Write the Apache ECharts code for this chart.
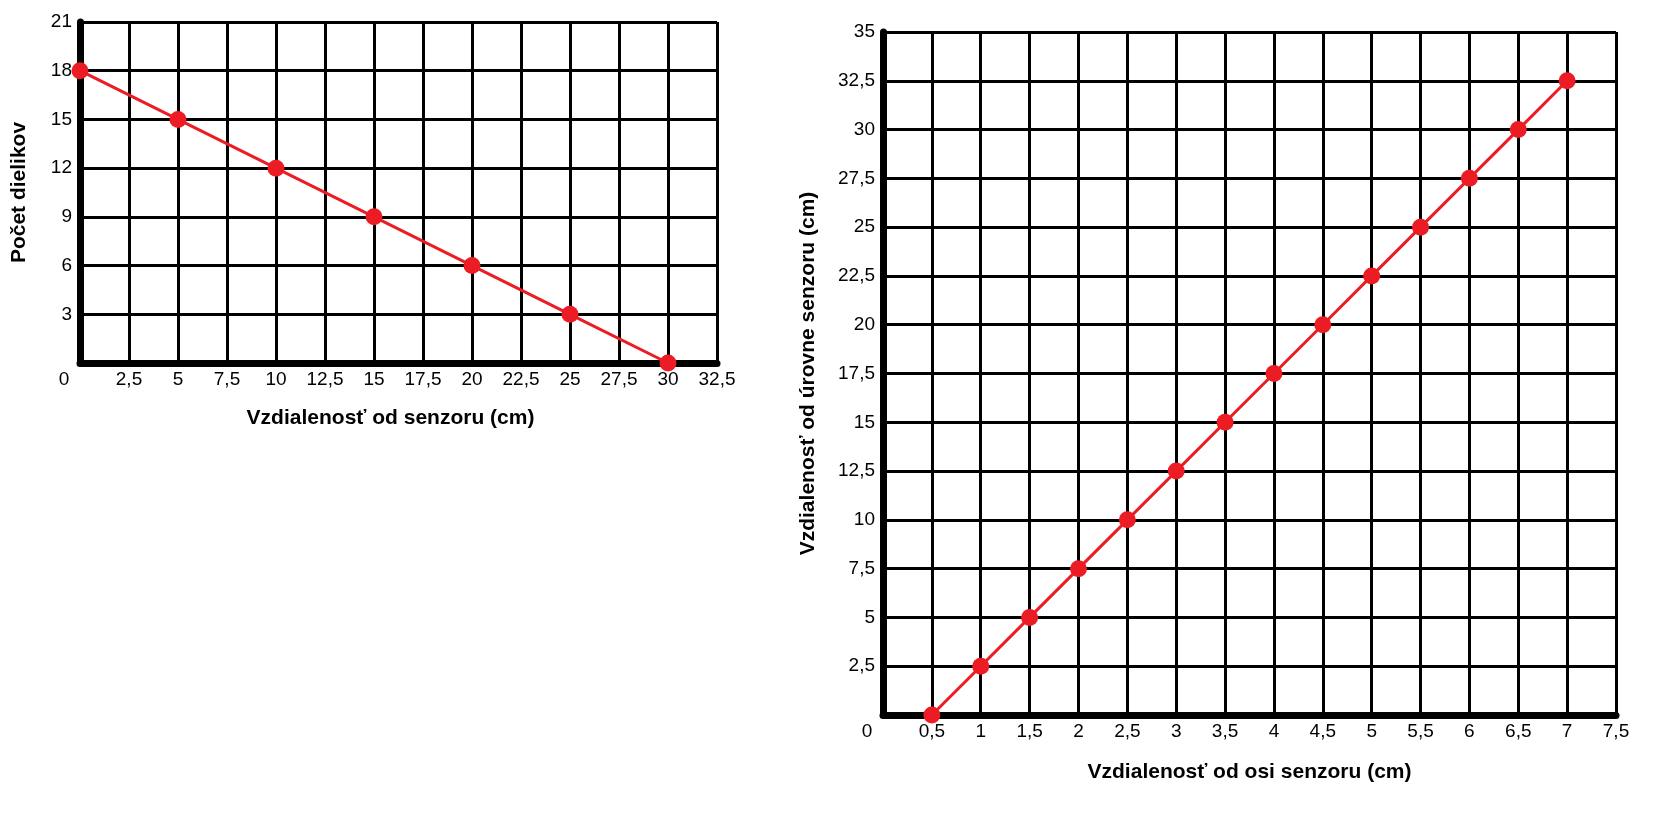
<!DOCTYPE html>
<html>
<head>
<meta charset="utf-8">
<script src="https://cdn.jsdelivr.net/npm/echarts@6/dist/echarts.min.js"></script>
<style>
  html, body { margin: 0; padding: 0; background: #fff; }
  #main { width: 1658px; height: 818px; }
</style>
</head>
<body>
<div id="main"></div>
<script>
// graf 1: pocet dielikov podla vzdialenosti
var dist1 = [0, 5, 10, 15, 20, 25, 30];
var dieliky = [18, 15, 12, 9, 6, 3, 0];

// graf 2: vzdialenost od urovne senzoru podla vzdialenosti od osi
var dist2 = [0.5, 1, 1.5, 2, 2.5, 3, 3.5, 4, 4.5, 5, 5.5, 6, 6.5, 7];
var uroven = [0, 2.5, 5, 7.5, 10, 12.5, 15, 17.5, 20, 22.5, 25, 27.5, 30, 32.5];

var red = '#ec1c24';
var font = 'Liberation Sans, Arial, sans-serif';

function pairs(xs, ys) {
	var out = [];
	for (var i = 0; i < xs.length; i++) out.push([xs[i], ys[i]]);
	return out;
}

// desatinna ciarka, nula na osi x posunuta dolava
function xLabel(v) {
	if (v === 0) return '{z|0}';
	return String(v).replace('.', ',');
}
function yLabel(v) {
	if (v === 0) return '';
	return String(v).replace('.', ',');
}

function xAxisOf(idx, max, step, name, pad, gap) {
	return {
		type: 'value', gridIndex: idx, min: 0, max: max, interval: step,
		name: name, nameLocation: 'middle', nameGap: gap,
		nameTextStyle: { fontFamily: font, fontSize: 21, fontWeight: 'bold', color: '#000', padding: pad },
		axisLine: { lineStyle: { color: '#000', width: 7, cap: 'round' } },
		axisTick: { show: false },
		axisLabel: {
			margin: 7, color: '#000', fontFamily: font, fontSize: 19,
			formatter: xLabel,
			rich: { z: { fontFamily: font, fontSize: 19, color: '#000', padding: [0, 32, 0, 0] } }
		},
		splitLine: { show: true, lineStyle: { color: '#000', width: 3 } }
	};
}

function yAxisOf(idx, max, step, name, gap) {
	return {
		type: 'value', gridIndex: idx, min: 0, max: max, interval: step,
		name: name, nameLocation: 'middle', nameGap: gap,
		nameTextStyle: { fontFamily: font, fontSize: 21, fontWeight: 'bold', color: '#000' },
		axisLine: { lineStyle: { color: '#000', width: 7, cap: 'round' } },
		axisTick: { show: false },
		axisLabel: { margin: 8, color: '#000', fontFamily: font, fontSize: 19, formatter: yLabel },
		splitLine: { show: true, lineStyle: { color: '#000', width: 3 } }
	};
}

var chart = echarts.init(document.getElementById('main'));

option = {
	animation: false,
	backgroundColor: '#fff',
	grid: [
		{ left: 80, top: 22, width: 637, height: 341 },
		{ left: 883, top: 32, width: 733, height: 683 }
	],
	xAxis: [
		xAxisOf(0, 32.5, 2.5, 'Vzdialenosť od senzoru (cm)', [0, 16, 0, 0], 45),
		xAxisOf(1, 7.5, 0.5, 'Vzdialenosť od osi senzoru (cm)', 0, 47)
	],
	yAxis: [
		yAxisOf(0, 21, 3, 'Počet dielikov', 50),
		yAxisOf(1, 35, 2.5, 'Vzdialenosť od úrovne senzoru (cm)', 64)
	],
	series: [
		{
			type: 'line', xAxisIndex: 0, yAxisIndex: 0,
			data: pairs(dist1, dieliky),
			symbol: 'circle', symbolSize: 17,
			lineStyle: { color: red, width: 3 },
			itemStyle: { color: red },
			z: 5
		},
		{
			type: 'line', xAxisIndex: 1, yAxisIndex: 1,
			data: pairs(dist2, uroven),
			symbol: 'circle', symbolSize: 17,
			lineStyle: { color: red, width: 3 },
			itemStyle: { color: red },
			z: 5
		}
	]
};

chart.setOption(option);
</script>
</body>
</html>
